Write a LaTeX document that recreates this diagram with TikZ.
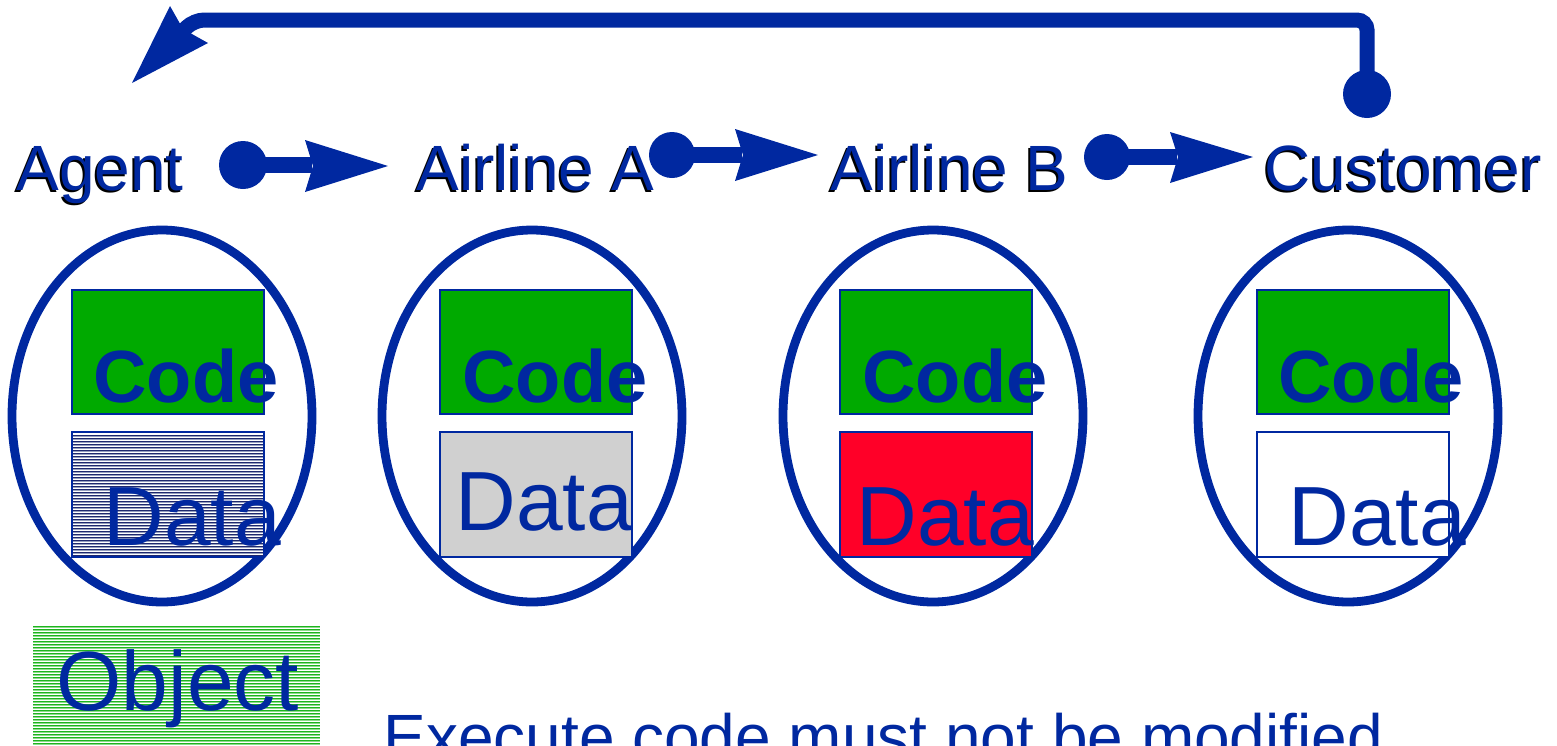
\documentclass[tikz,border=0pt]{standalone}
\usepackage{fontspec}
\setmainfont{Liberation Sans}
\usetikzlibrary{shapes.geometric}
\definecolor{ublue}{RGB}{0,40,160}
\definecolor{cgreen}{RGB}{0,170,0}
\definecolor{dred}{RGB}{255,0,40}
\definecolor{dgrey}{RGB}{208,208,208}
\definecolor{hatchblue}{RGB}{30,40,110}
\definecolor{hatchgrey}{RGB}{150,160,190}
\definecolor{ogreen}{RGB}{30,180,30}
\definecolor{ogreenl}{RGB}{140,220,140}
\begin{document}
\begin{tikzpicture}[x=0.5pt,y=-0.5pt,
  objell/.style={draw=ublue,line width=4.4pt,ellipse,inner sep=0,minimum width=150pt,minimum height=186pt},
  codebox/.style={draw=ublue,line width=1pt,fill=cgreen,inner sep=0,minimum width=96pt,minimum height=62pt},
  databox/.style={draw=ublue,line width=1pt,inner sep=0,minimum width=96pt,minimum height=62.5pt},
  lbl/.style={anchor=base west,inner sep=0,font=\fontsize{32}{32}\selectfont,text=ublue},
  shd/.style={anchor=base west,inner sep=0,font=\fontsize{32}{32}\selectfont,text=black},
  codetxt/.style={anchor=base west,inner sep=0,font=\fontsize{37}{37}\selectfont\bfseries,text=ublue},
  datatxt/.style={anchor=base west,inner sep=0,font=\fontsize{42}{42}\selectfont,text=ublue},
  conn/.style={draw=ublue,line width=8pt},
  headfill/.style={fill=ublue},
  dotfill/.style={fill=ublue}]
\useasboundingbox (0,0) rectangle (1557,745);
\clip (0,0) rectangle (1557,745);

% objects
\node[objell] (agentobj) at (162,416) {};
\node[objell] (aobj) at (532,416) {};
\node[objell] (bobj) at (933,416) {};
\node[objell] (cobj) at (1348,416) {};

% code boxes
\node[codebox] (agentcode) at (168,352) {};
\node[codebox] (acode) at (536,352) {};
\node[codebox] (bcode) at (936,352) {};
\node[codebox] (ccode) at (1352.5,352) {};

% data boxes
\node[databox,fill=white] (agentdata) at (168,494.5) {};
\foreach \yy in {435,438,...,555} {
  \draw[hatchblue,line width=0.4pt] (73,\yy) -- (263,\yy);
  \draw[hatchgrey,line width=0.3pt] (73,\yy+1.5) -- (263,\yy+1.5);
}
\node[databox] at (168,494.5) {};
\node[databox,fill=dgrey] (adata) at (536,494.5) {};
\node[databox,fill=dred] (bdata) at (936,494.5) {};
\node[databox,fill=white] (cdata) at (1352.5,494.5) {};

% code / data texts
\node[codetxt] (agentcodet) at (93,402) {Code};
\node[codetxt] (acodet) at (462,402) {Code};
\node[codetxt] (bcodet) at (862,402) {Code};
\node[codetxt] (ccodet) at (1278,402) {Code};
\node[datatxt] (agentdatat) at (103,545) {Data};
\node[datatxt] (adatat) at (455,530) {Data};
\node[datatxt] (bdatat) at (856,545) {Data};
\node[datatxt] (cdatat) at (1288,545) {Data};

% labels with shadow
\node[shd] at (14,192) {Agent};
\node[lbl] (agent) at (16,190) {Agent};
\node[shd] at (414,192) {Airline A};
\node[lbl] (airA) at (416,190) {Airline A};
\node[shd] at (828,192) {Airline B};
\node[lbl] (airB) at (830,190) {Airline B};
\node[shd] at (1262,192) {Customer};
\node[lbl] (cust) at (1264,190) {Customer};

% connectors
\coordinate (d1) at (243,165);
\coordinate (t1) at (388,166);
\fill[dotfill] (d1) circle[radius=24];
\draw[conn] (d1) -- (312,165);
\fill[headfill] (305,140) -- (t1) -- (305,192) -- (313,166) -- cycle;

\coordinate (d2) at (672,155);
\coordinate (t2) at (818,155);
\fill[dotfill] (d2) circle[radius=23];
\draw[conn] (d2) -- (742,155);
\fill[headfill] (735,129) -- (t2) -- (735,181) -- (743,155) -- cycle;

\coordinate (d3) at (1107,157);
\coordinate (t3) at (1253,157);
\fill[dotfill] (d3) circle[radius=23];
\draw[conn] (d3) -- (1177,157);
\fill[headfill] (1170,132) -- (t3) -- (1170,183) -- (1178,157) -- cycle;

\coordinate (d4) at (1367,94);
\coordinate (t4) at (132,83);
\fill[dotfill] (d4) circle[radius=24];
\draw[draw=ublue,line width=7.5pt,rounded corners=5pt] (d4) -- (1367,20) -- (194,20) -- (182,32);
\fill[headfill] (170,6) -- (t4) -- (208,43) -- (183,29) -- cycle;

% object legend
\foreach \yy in {626,629,...,746} {
  \draw[ogreen,line width=0.4pt] (33,\yy) -- (320,\yy);
  \draw[ogreenl,line width=0.3pt] (33,\yy+1.5) -- (320,\yy+1.5);
}
\node[datatxt] (objt) at (56,710) {Object};

\node[anchor=base west,inner sep=0,font=\fontsize{32}{32}\selectfont,text=ublue] (note) at (383,759) {Execute code must not be modified};
\end{tikzpicture}
\end{document}
